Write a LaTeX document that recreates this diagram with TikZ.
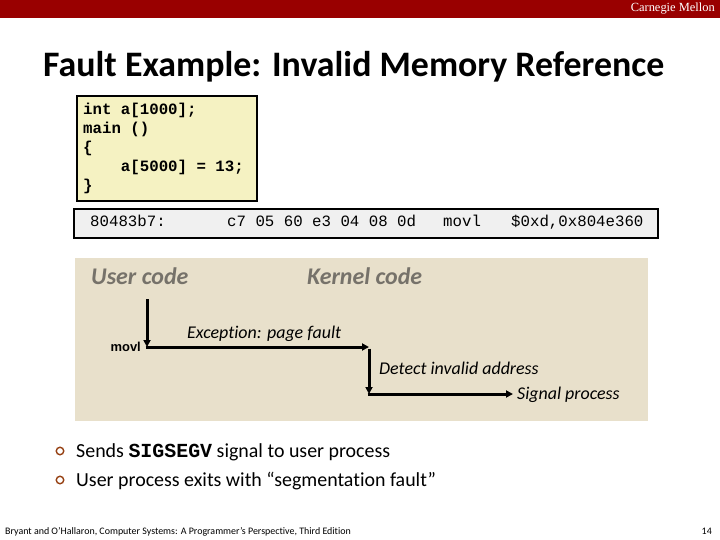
\documentclass[tikz,border=0pt]{standalone}
\usepackage{fontspec}
\setmainfont[Ligatures={NoCommon}]{Carlito}
\newfontfamily\monofont{Liberation Mono}
\newfontfamily\armfont{Liberation Sans}
\newfontfamily\timesfont{Liberation Serif}
\usetikzlibrary{arrows.meta}
\definecolor{cmured}{RGB}{153,0,0}
\definecolor{codefill}{RGB}{245,242,194}
\definecolor{insnfill}{RGB}{240,240,240}
\definecolor{panelfill}{RGB}{232,224,203}
\definecolor{labelgray}{RGB}{118,114,106}
\definecolor{bulletcol}{RGB}{150,65,20}
\tikzset{
  txt/.style={inner sep=0pt, anchor=base west},
  codeline/.style={txt, font=\monofont\bfseries\fontsize{15.8}{19}\selectfont},
  insn/.style={txt, font=\monofont\fontsize{15.8}{19}\selectfont},
  region/.style={txt, text=labelgray, font=\bfseries\itshape\fontsize{24}{28}\selectfont},
  flowlabel/.style={txt, font=\itshape\fontsize{18}{21}\selectfont},
  flow/.style={line width=3bp, -{Triangle[length=7bp,width=7bp]}},
  bullettext/.style={txt, font=\fontsize{20}{24}\selectfont},
  bulletmark/.style={circle, draw=bulletcol, line width=1.4bp, minimum size=7.5bp, inner sep=0pt},
}
\begin{document}
\begin{tikzpicture}[x=1bp,y=-1bp]
\useasboundingbox (0,0) rectangle (720,540);
\fill[white] (0,0) rectangle (720,540);
% top bar
\fill[cmured] (0,0) rectangle (720,18);
\node[inner sep=0pt, anchor=east, text=white, font=\timesfont\fontsize{12.5}{14}\selectfont] (cmu) at (715,9) {Carnegie Mellon};
% title
\node[txt, font=\bfseries\fontsize{36}{42}\selectfont] (title) at (43,77) {Fault Example: Invalid Memory Reference};
% code box
\node[draw=black, line width=2bp, fill=codefill, anchor=north west, minimum width=180bp, minimum height=105bp, inner sep=0pt] (codebox) at (76,95) {};
\node[codeline] (c1) at (83,115) {int a[1000];};
\node[codeline] (c2) at (83,134) {main ()};
\node[codeline] (c3) at (83,153) {\{};
\node[codeline] (c4) at (83,172) {\ \ \ \ a[5000] = 13;};
\node[codeline] (c5) at (83,191) {\}};
% instruction box
\node[draw=black, line width=2bp, fill=insnfill, anchor=north west, minimum width=584bp, minimum height=29bp, inner sep=0pt] (insnbox) at (73,208) {};
\node[insn] (addr) at (90,227) {80483b7:};
\node[insn] (bytes) at (227,227) {c7 05 60 e3 04 08 0d};
\node[insn] (op) at (443,227) {movl};
\node[insn] (args) at (511,227) {\$0xd,0x804e360};
% panel
\fill[panelfill] (75,258) rectangle (648,421);
\node[region] (user) at (91,285) {User code};
\node[region] (kernel) at (307,285) {Kernel code};
\node[inner sep=0pt, anchor=base east, font=\armfont\bfseries\fontsize{13}{15}\selectfont] (movl) at (141,351) {movl};
\node[flowlabel] (exc) at (187,338) {Exception: page fault};
\node[flowlabel] (detect) at (379,374) {Detect invalid address};
\node[flowlabel] (signal) at (517,399) {Signal process};
\coordinate (p0) at (147,299);
\coordinate (p1) at (147,347);
\coordinate (p2) at (369,347);
\coordinate (p3) at (369,394);
\coordinate (p4) at (513,394);
\draw[flow] (p0) -- (p1);
\draw[flow] ([xshift=-1.5bp]p1) -- (p2);
\draw[flow] ([yshift=-1.5bp]p2) -- (p3);
\draw[flow] ([xshift=-1.5bp]p3) -- (p4);
% bullets
\node[bulletmark] (b1) at (60,451) {};
\node[bulletmark] (b2) at (60,480) {};
\node[bullettext] (t1) at (76,457) {Sends {\monofont\bfseries SIGSEGV} signal to user process};
\node[bullettext] (t2) at (76,486) {User process exits with “segmentation fault”};
% footer
\node[txt, font=\fontsize{10}{12}\selectfont] (foot) at (5,534) {Bryant and O’Hallaron, Computer Systems: A Programmer’s Perspective, Third Edition};
\node[inner sep=0pt, anchor=base east, font=\fontsize{10}{12}\selectfont] (page) at (712,534) {14};
\end{tikzpicture}
\end{document}
